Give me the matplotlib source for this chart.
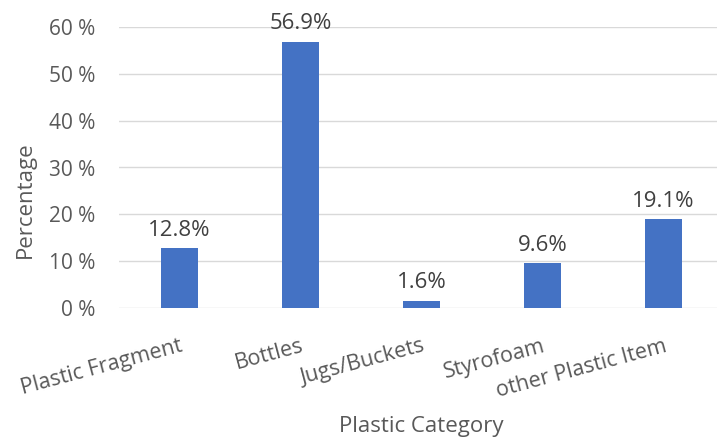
import matplotlib.pyplot as plt

# Share of collected plastic litter by category
categories = ["Plastic Fragment", "Bottles", "Jugs/Buckets", "Styrofoam", "other Plastic Item"]
percentages = [12.8, 56.9, 1.6, 9.6, 19.1]
y_ticks = [0, 10, 20, 30, 40, 50, 60]

plt.rcParams["font.family"] = ["Open Sans", "DejaVu Sans"]
text_grey = "#595959"
bar_blue = "#4472C4"

fig = plt.figure(figsize=(7.17, 4.37), dpi=100)
ax = fig.add_axes([119 / 717, 129 / 437, 605 / 717, 281 / 437])

x = list(range(len(categories)))
bars = ax.bar(x, percentages, width=0.31, color=bar_blue, zorder=3)

for rect, val in zip(bars, percentages):
    ax.text(rect.get_x() + rect.get_width() / 2, val + 1.5, f"{val}%",
            ha="center", va="bottom", fontsize=16, color="#404040", clip_on=False)

ax.set_xlim(-0.5, len(categories) - 0.5)
ax.set_ylim(0, 60)
ax.set_yticks(y_ticks)
ax.set_yticklabels([f"{t} %" for t in y_ticks], fontsize=15, color=text_grey)
ax.yaxis.grid(True, color="#d9d9d9", linewidth=1, zorder=0)
ax.tick_params(axis="y", length=0, pad=17)

ax.set_xticks(x)
ax.set_xticklabels(categories, fontsize=15.5, color=text_grey,
                   rotation=15, ha="right", rotation_mode="anchor")
ax.tick_params(axis="x", length=0, pad=20)

for s in ax.spines.values():
    s.set_visible(False)

fig.text(25 / 717, 1 - 200 / 437, "Percentage", rotation=90, ha="center", va="center",
         fontsize=16, color=text_grey)
fig.text(421 / 717, 0, "Plastic Category", ha="center", va="bottom",
         fontsize=16, color=text_grey)

fig.savefig("out.png", dpi=100)
